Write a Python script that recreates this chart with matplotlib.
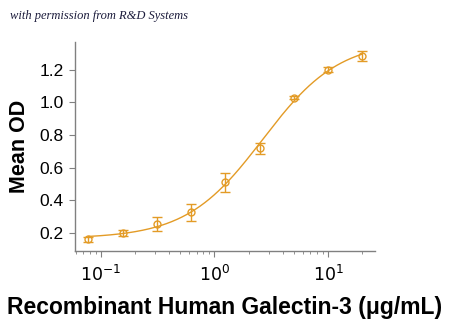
import numpy as np
import matplotlib.pyplot as plt
from matplotlib.ticker import LogLocator, NullFormatter

plt.rcParams['mathtext.fontset'] = 'custom'
plt.rcParams['mathtext.rm'] = 'Liberation Sans'
plt.rcParams['mathtext.it'] = 'Liberation Sans:italic'
plt.rcParams['mathtext.bf'] = 'Liberation Sans:bold'

# Galectin-3 dose response (ug/mL vs mean OD)
conc = np.array([0.078, 0.156, 0.3125, 0.625, 1.25, 2.5, 5.0, 10.0, 20.0])
od = np.array([0.163, 0.200, 0.255, 0.326, 0.512, 0.720, 1.029, 1.200, 1.285])
od_err = np.array([0.015, 0.020, 0.045, 0.050, 0.058, 0.034, 0.010, 0.015, 0.030])
xtick_vals = [0.1, 1, 10]
xtick_labels = ['$\\mathregular{10^{-1}}$', '$\\mathregular{10^{0}}$', '$\\mathregular{10^{1}}$']

color = '#E39B26'


def fit_4pl(x, y):
    # grid over ec50 / hill, bottom and top solved by least squares
    best = None
    for ec50 in np.logspace(-0.5, 1.5, 200):
        for hill in np.linspace(0.5, 2.5, 100):
            g = 1.0 / (1.0 + (ec50 / x) ** hill)
            A = np.column_stack([1 - g, g])
            coef, res, _, _ = np.linalg.lstsq(A, y, rcond=None)
            err = np.sum((A @ coef - y) ** 2)
            if best is None or err < best[0]:
                best = (err, coef[0], coef[1], ec50, hill)
    return best[1:]


bottom, top, ec50, hill = fit_4pl(conc, od)
xs = np.logspace(np.log10(conc[0]), np.log10(conc[-1]), 300)
ys = bottom + (top - bottom) / (1 + (ec50 / xs) ** hill)

fig = plt.figure(figsize=(4.5, 3.22), dpi=100)
ax = fig.add_axes([0.1667, 0.2205, 0.6667, 0.6491])

ax.plot(xs, ys, color=color, lw=1.0)
ax.errorbar(conc, od, yerr=od_err, fmt='o', mfc='none', mec=color, ms=5,
            mew=1.0, ecolor=color, elinewidth=1.0, capsize=3.5, capthick=1.0)

ax.set_xscale('log')
ax.set_xlim(0.0594, 25.9)
ax.set_ylim(0.09, 1.37)
ax.set_yticks([0.2, 0.4, 0.6, 0.8, 1.0, 1.2])
ax.set_yticklabels(['0.2', '0.4', '0.6', '0.8', '1.0', '1.2'])
ax.set_xticks(xtick_vals)
ax.set_xticklabels(xtick_labels)
ax.xaxis.set_minor_locator(LogLocator(base=10, subs=np.arange(2, 10)))
ax.xaxis.set_minor_formatter(NullFormatter())

for s in ['top', 'right']:
    ax.spines[s].set_visible(False)
for s in ['left', 'bottom']:
    ax.spines[s].set_color('#808080')
    ax.spines[s].set_linewidth(1.0)

ax.tick_params(axis='both', which='major', direction='out', length=4,
               color='#808080', labelsize=12.5, pad=4)
ax.tick_params(axis='x', which='major', pad=6)
ax.tick_params(axis='x', which='minor', direction='out', length=2.5,
               color='#808080')
for lab in ax.get_yticklabels():
    lab.set_family('Liberation Sans')

ax.set_ylabel('Mean OD', fontsize=15.5, fontweight='bold',
              family='Liberation Sans', labelpad=7)
ax.set_xlabel('Recombinant Human Galectin-3 (\u03bcg/mL)', fontsize=16.5,
              fontweight='bold', family='Liberation Sans', labelpad=8)

fig.text(0.022, 0.94, 'with permission from R&D Systems', fontsize=9,
         style='italic', family='Liberation Serif', color='#1c1c3c')

fig.savefig('out.png', dpi=100)
